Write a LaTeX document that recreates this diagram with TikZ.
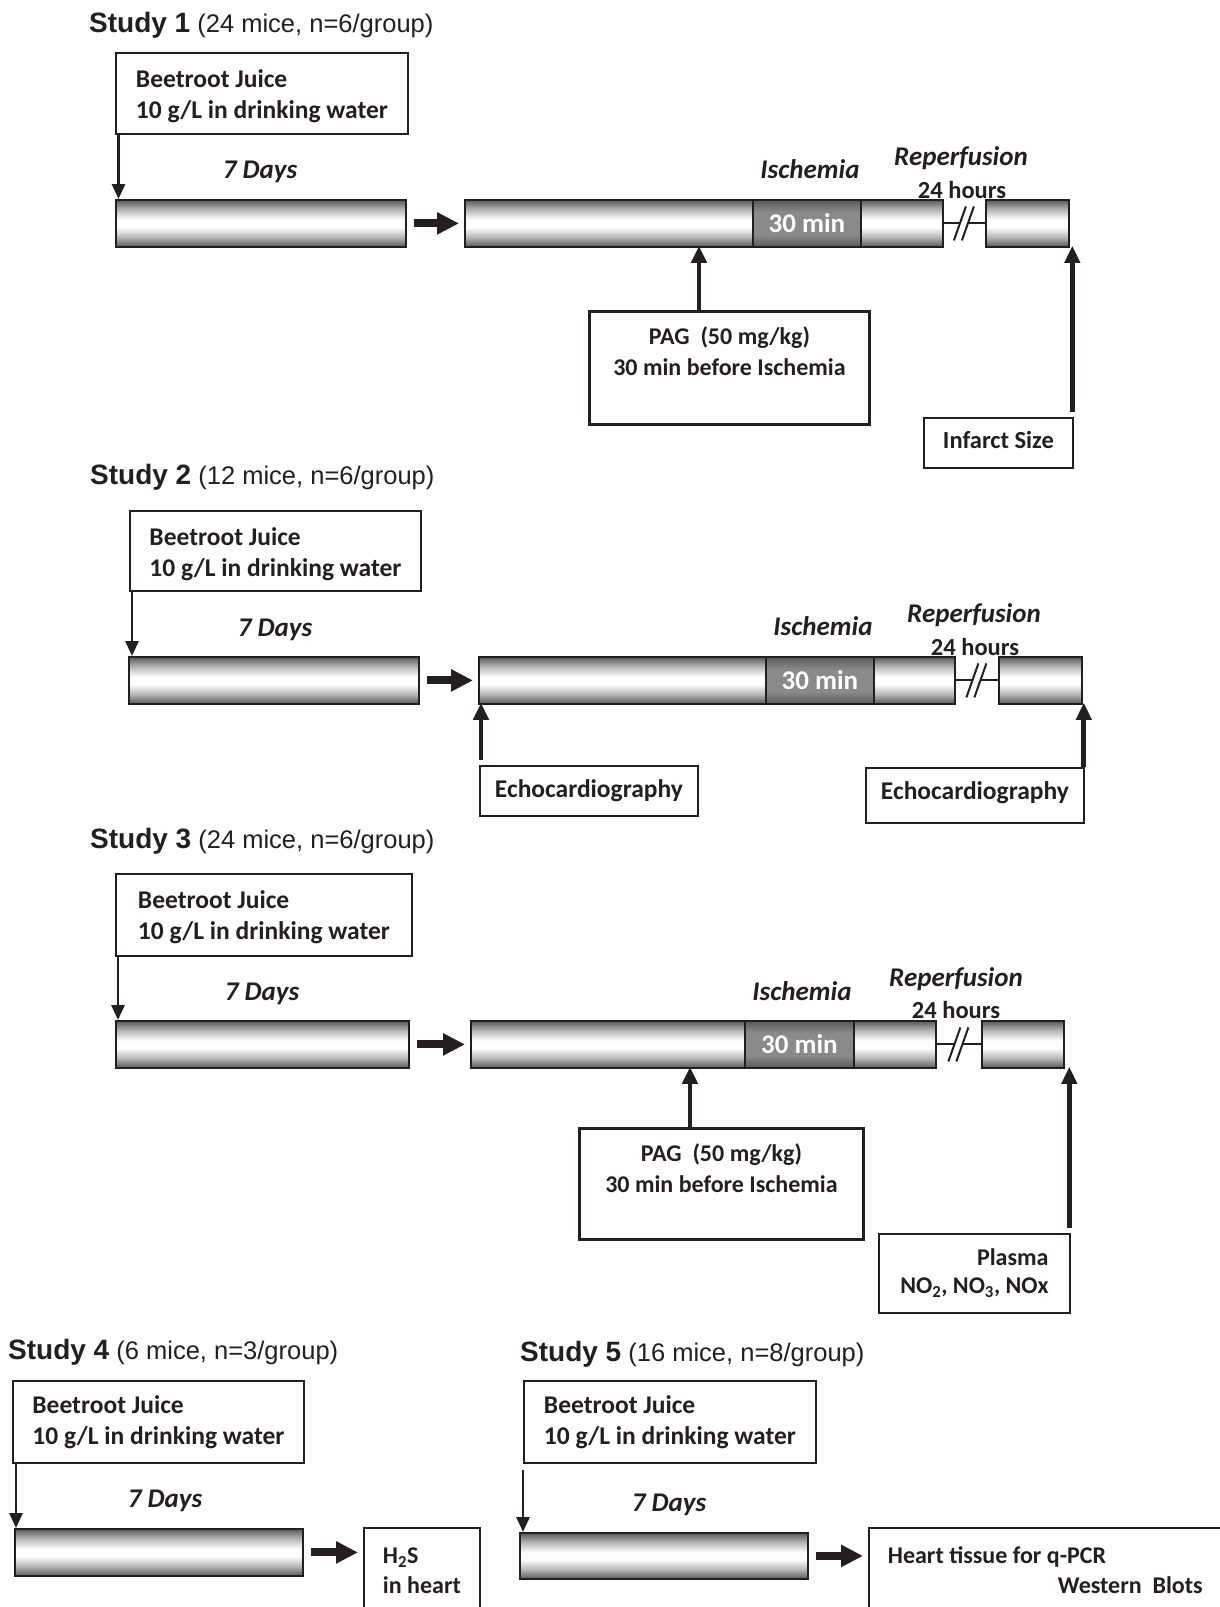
\documentclass[tikz,border=0pt]{standalone}
\usepackage{fontspec}
\setmainfont{Carlito}
\newfontfamily\arialfont{Liberation Sans}
\usetikzlibrary{arrows.meta,positioning,calc}
\definecolor{ink}{HTML}{231F20}
\definecolor{barend}{HTML}{585858}
\definecolor{barmid}{HTML}{B4B4B4}
\definecolor{ischend}{HTML}{5A5A5A}
\definecolor{ischmid}{HTML}{8A8A8A}
\pgfdeclareverticalshading{barshade}{100bp}{color(0bp)=(barend); color(25bp)=(barend);
  color(35bp)=(barmid); color(46bp)=(white); color(54bp)=(white); color(65bp)=(barmid);
  color(75bp)=(barend); color(100bp)=(barend)}
\pgfdeclareverticalshading{ischshade}{100bp}{color(0bp)=(ischend); color(25bp)=(ischend);
  color(38bp)=(ischmid); color(62bp)=(ischmid); color(75bp)=(ischend); color(100bp)=(ischend)}
\newcommand{\stl}[2]{{\fontsize{28}{32}\selectfont\bfseries Study #1} (#2)}
\newcommand{\tbox}[2]{\begin{tabular}[t]{@{}#1@{}}#2\end{tabular}}
\newcommand{\bj}{\tbox{l}{Beetroot Juice\\10 g/L in drinking water}}
\newcommand{\pag}{\tbox{c}{PAG\ \ (50 mg/kg)\\30 min before Ischemia}}

\begin{document}
\begin{tikzpicture}[
  x=1pt, y=-1pt,
  font=\bfseries\fontsize{24.5}{31}\selectfont,
  bar/.style={draw=ink, line width=1.8pt, shade, shading=barshade,
              minimum height=47pt, inner sep=0pt, anchor=north west},
  ischbar/.style={bar, shading=ischshade, text=white, font=\bfseries\fontsize{27}{30}\selectfont},
  jbox/.style={draw=ink, line width=1.8pt, fill=white, anchor=north west, text=ink,
               inner sep=0pt, font=\bfseries\fontsize{25.5}{31}\selectfont},
  pagbox/.style={draw=ink, line width=3pt, fill=white, anchor=north west, text=ink,
                 inner sep=0pt, font=\bfseries\fontsize{24}{30.5}\selectfont},
  obox/.style={draw=ink, line width=1.8pt, fill=white, anchor=north west, text=ink, inner sep=0pt},
  ttl/.style={anchor=base west, inner sep=0pt, text=ink, font=\arialfont\fontsize{25.5}{30}\selectfont},
  phase/.style={anchor=base, inner sep=0pt, text=ink, font=\bfseries\itshape\fontsize{27}{31}\selectfont},
  hrs/.style={anchor=base, inner sep=0pt, text=ink},
  dnarr/.style={draw=ink, line width=2.8pt, -{Triangle[length=15pt,width=13pt]}},
  uparr/.style={draw=ink, line width=4.8pt, -{Triangle[length=17pt,width=15pt]}, shorten >=-2pt},
  fatarr/.style={draw=ink, line width=8pt, -{Triangle[length=22pt,width=21pt]}, shorten <=7pt, shorten >=5pt},
  brk/.style={draw=ink, line width=2pt},
]
\useasboundingbox (0,0) rectangle (1220,1607);
\clip (0,0) rectangle (1220,1607);
\fill[white] (0,0) rectangle (1220,1607);

% ---- Study 1 ----
\node[ttl] (t1) at (89,32) {\stl{1}{24 mice, n=6/group}};
\node[jbox, minimum width=292pt, text height=35pt, text depth=46pt] (bj1) at (115,52) {\bj};
\node[phase] (d1) at (260,178) {7 Days};
\node[bar, minimum width=290pt] (b1a) at (115,199) {};
\node[bar, minimum width=288pt] (b1b) at (464,199) {};
\node[ischbar, minimum width=108pt] (i1) at (752,199) {30 min};
\node[bar, minimum width=82pt] (b1c) at (860,199) {};
\node[bar, minimum width=83pt] (b1d) at (985,199) {};
\node[phase] (is1) at (810,178) {Ischemia};
\node[phase] (rp1) at (961,165) {Reperfusion};
\node[hrs] (h1) at (962,198) {24 hours};
\node[pagbox, minimum width=280pt, text height=33pt, text depth=80pt] (pag1) at (588,310) {\pag};
\node[obox, minimum width=149pt, text height=31pt, text depth=19pt] (inf1) at (923,417) {Infarct Size};

\coordinate (a1) at ($(bj1.south west)+(3.5,0)$);
\draw[dnarr] (a1) -- (a1 |- b1a.north);
\draw[fatarr] (b1a.east) -- (b1b.west);
\coordinate (brk1) at ($(b1c.east)!0.5!(b1d.west)$);
\draw[brk] (b1c.east) -- ([xshift=-4.5pt]brk1);
\draw[brk] ([xshift=3.5pt]brk1) -- (b1d.west);
\draw[brk] ([shift={(-10.5pt,-17pt)}]brk1) -- ([shift={(1.5pt,17pt)}]brk1);
\draw[brk] ([shift={(-2.5pt,-17pt)}]brk1) -- ([shift={(9.5pt,17pt)}]brk1);
\coordinate (p1) at ($(pag1.north west)+(111,0)$);
\draw[uparr] (p1) -- (p1 |- b1b.south);
\coordinate (f1) at ($(inf1.north east)+(-1.5,0)$);
\draw[uparr, shorten <=5pt] (f1) -- (f1 |- b1d.south);

% ---- Study 2 ----
\node[ttl] (t2) at (90,484) {\stl{2}{12 mice, n=6/group}};
\node[jbox, minimum width=291pt, text height=35pt, text depth=45pt] (bj2) at (129,510) {\bj};
\node[phase] (d2) at (275,636) {7 Days};
\node[bar, minimum width=290pt] (b2a) at (128,656) {};
\node[bar, minimum width=287pt] (b2b) at (478,656) {};
\node[ischbar, minimum width=108pt] (i2) at (765,656) {30 min};
\node[bar, minimum width=81pt] (b2c) at (873,656) {};
\node[bar, minimum width=83pt] (b2d) at (998,656) {};
\node[phase] (is2) at (823,635) {Ischemia};
\node[phase] (rp2) at (974,622) {Reperfusion};
\node[hrs] (h2) at (975,655) {24 hours};
\node[obox, minimum width=218pt, text height=32pt, text depth=18pt, font=\bfseries\fontsize{25.5}{31}\selectfont] (ec2a) at (479,765) {Echocardiography};
\node[obox, minimum width=218pt, text height=32pt, text depth=23pt, font=\bfseries\fontsize{25.5}{31}\selectfont] (ec2b) at (865,767) {Echocardiography};

\coordinate (a2) at ($(bj2.south west)+(3,0)$);
\draw[dnarr] (a2) -- (a2 |- b2a.north);
\draw[fatarr] (b2a.east) -- (b2b.west);
\coordinate (brk2) at ($(b2c.east)!0.5!(b2d.west)$);
\draw[brk] (b2c.east) -- ([xshift=-4.5pt]brk2);
\draw[brk] ([xshift=3.5pt]brk2) -- (b2d.west);
\draw[brk] ([shift={(-10.5pt,-17pt)}]brk2) -- ([shift={(1.5pt,17pt)}]brk2);
\draw[brk] ([shift={(-2.5pt,-17pt)}]brk2) -- ([shift={(9.5pt,17pt)}]brk2);
\coordinate (e2) at ($(ec2a.north west)+(2,0)$);
\draw[uparr, shorten <=5pt] (e2) -- (e2 |- b2b.south);
\coordinate (g2) at ($(ec2b.north east)+(-1,0)$);
\draw[uparr] (g2) -- (g2 |- b2d.south);

% ---- Study 3 ----
\node[ttl] (t3) at (90,848) {\stl{3}{24 mice, n=6/group}};
\node[jbox, minimum width=296pt, text height=35pt, text depth=47pt] (bj3) at (115,873) {\bj};
\node[phase] (d3) at (262,1000) {7 Days};
\node[bar, minimum width=293pt] (b3a) at (115,1020) {};
\node[bar, minimum width=274pt] (b3b) at (470,1020) {};
\node[ischbar, minimum width=109pt] (i3) at (744,1020) {30 min};
\node[bar, minimum width=82pt] (b3c) at (853,1020) {};
\node[bar, minimum width=82pt] (b3d) at (981,1020) {};
\node[phase] (is3) at (802,1000) {Ischemia};
\node[phase] (rp3) at (956,986) {Reperfusion};
\node[hrs] (h3) at (956,1018) {24 hours};
\node[pagbox, minimum width=284pt, text height=33pt, text depth=78pt] (pag3) at (578,1127) {\pag};
\node[obox, minimum width=191pt, text height=32pt, text depth=47pt,
      font=\bfseries\fontsize{24}{28}\selectfont] (pl3) at (878,1233) {\tbox{r}{Plasma\\NO\textsubscript{2}, NO\textsubscript{3}, NOx}};

\coordinate (a3) at ($(bj3.south west)+(3,0)$);
\draw[dnarr] (a3) -- (a3 |- b3a.north);
\draw[fatarr] (b3a.east) -- (b3b.west);
\coordinate (brk3) at ($(b3c.east)!0.5!(b3d.west)$);
\draw[brk] (b3c.east) -- ([xshift=-4.5pt]brk3);
\draw[brk] ([xshift=3.5pt]brk3) -- (b3d.west);
\draw[brk] ([shift={(-10.5pt,-17pt)}]brk3) -- ([shift={(1.5pt,17pt)}]brk3);
\draw[brk] ([shift={(-2.5pt,-17pt)}]brk3) -- ([shift={(9.5pt,17pt)}]brk3);
\coordinate (p3) at ($(pag3.north west)+(112,0)$);
\draw[uparr] (p3) -- (p3 |- b3b.south);
\coordinate (q3) at ($(pl3.north east)+(-1.5,0)$);
\draw[uparr, shorten <=5pt] (q3) -- (q3 |- b3d.south);

% ---- Study 4 ----
\node[ttl] (t4) at (8,1359) {\stl{4}{6 mice, n=3/group}};
\node[jbox, minimum width=291pt, text height=33pt, text depth=49pt] (bj4) at (12,1380) {\bj};
\node[phase] (d4) at (165,1507) {7 Days};
\node[bar, minimum width=288pt] (b4) at (14,1528) {};
\node[obox, minimum width=116pt, text height=36pt, text depth=80pt,
      font=\bfseries\fontsize{24}{30}\selectfont] (hs4) at (363,1527) {\tbox{l}{H\textsubscript{2}S\\in heart}};

\coordinate (a4) at ($(bj4.south west)+(4,0)$);
\draw[dnarr] (a4) -- (a4 |- b4.north);
\draw[fatarr] (b4.east) -- (b4.east -| hs4.west);

% ---- Study 5 ----
\node[ttl] (t5) at (520,1361) {\stl{5}{16 mice, n=8/group}};
\node[jbox, minimum width=292pt, text height=33pt, text depth=49pt] (bj5) at (523,1380) {\bj};
\node[phase] (d5) at (669,1511) {7 Days};
\node[bar, minimum width=288pt, minimum height=46pt] (b5) at (519,1532) {};
\node[obox, inner xsep=19pt, text height=36pt, text depth=80pt,
      font=\bfseries\fontsize{24}{30}\selectfont] (ht5) at (868,1527) {\tbox{l}{Heart tissue for q-PCR\\\hspace*{170pt}Western\ \ Blots}};

\coordinate (a5) at ($(bj5.south west)+(0,6)$);
\draw[dnarr] (a5) -- (a5 |- b5.north);
\draw[fatarr] (b5.east) -- (b5.east -| ht5.west);

\end{tikzpicture}
\end{document}
